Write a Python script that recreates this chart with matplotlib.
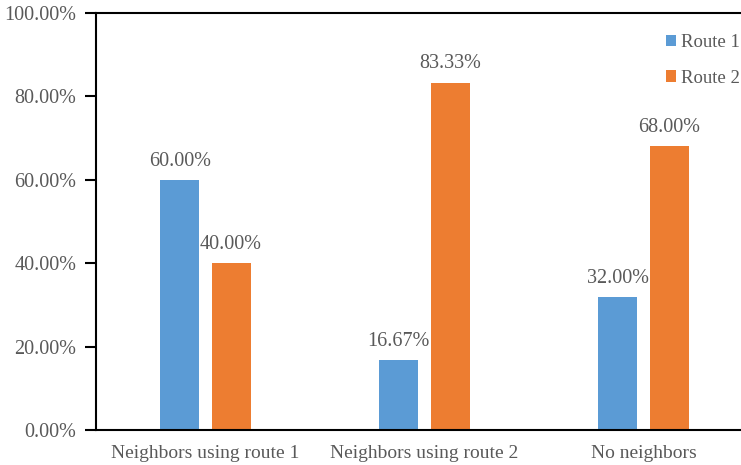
import numpy as np
import matplotlib.pyplot as plt
from matplotlib.ticker import FuncFormatter

plt.rcParams['font.family'] = ['Liberation Serif', 'DejaVu Serif']

categories = ['Neighbors using route 1', 'Neighbors using route 2', 'No neighbors']
route1 = [60.00, 16.67, 32.00]
route2 = [40.00, 83.33, 68.00]
series_names = ['Route 1', 'Route 2']

blue = '#5B9BD5'
orange = '#ED7D31'
grey = '#595959'

fig = plt.figure(figsize=(7.41, 4.65), dpi=100)
ax = fig.add_axes([96/741, 35/465, 657/741, 417/465])

x = np.arange(len(categories))
w = 0.178
off = 0.117
b1 = ax.bar(x - off, route1, w, color=blue, label=series_names[0])
b2 = ax.bar(x + off, route2, w, color=orange, label=series_names[1])

for bars, vals in ((b1, route1), (b2, route2)):
    for rect, v in zip(bars, vals):
        ax.annotate('%.2f%%' % v, (rect.get_x() + rect.get_width()/2, v),
                    xytext=(0, 6.5), textcoords='offset points',
                    ha='center', va='bottom', fontsize=14.5, color=grey)

ax.set_xlim(-0.5, 2.5)
ax.set_ylim(0, 100)
ax.set_yticks(np.arange(0, 101, 20))
ax.yaxis.set_major_formatter(FuncFormatter(lambda v, p: '%.2f%%' % v))
ax.set_xticks(x)
ax.set_xticklabels(categories)
ax.tick_params(axis='y', direction='out', length=8, width=1.5, labelsize=14.5,
               labelcolor=grey, pad=6)
ax.tick_params(axis='x', length=0, labelsize=14, labelcolor=grey, pad=11)
for s in ax.spines.values():
    s.set_linewidth(1.5)
    s.set_color('black')

leg = fig.legend(loc='upper left', bbox_to_anchor=(666/741, 1 - 34/465), frameon=False,
                 fontsize=13.5, handlelength=0.55, handleheight=0.55,
                 handletextpad=0.25, labelspacing=1.0, borderpad=0,
                 borderaxespad=0, labelcolor=grey)

fig.savefig('out.png', dpi=100)
